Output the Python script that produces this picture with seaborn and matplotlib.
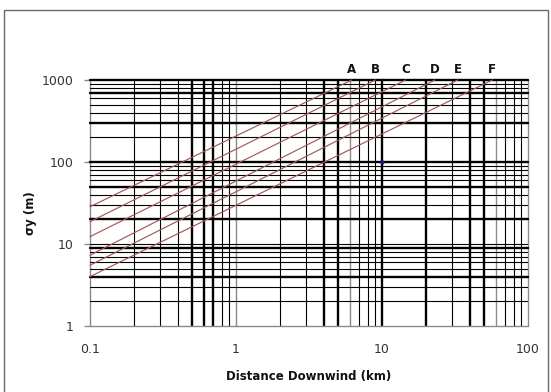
import matplotlib
matplotlib.use("Agg")
import matplotlib.pyplot as plt
import seaborn as sns
import pandas as pd
from matplotlib.patches import Rectangle

# ---- data ----
classes = ["A", "B", "C", "D", "E", "F"]
x_start = [0.1, 0.1, 0.1, 0.1, 0.1, 0.1]          # km
sigma_start = [28.5, 18.7, 12.3, 7.3, 5.5, 4.0]    # m at x_start
x_end = [6.2, 9.0, 14.5, 23.0, 33.0, 57.0]         # km where line reaches 1000 m
sigma_end = [1000, 1000, 1000, 1000, 1000, 1000]   # m

x_ticks = [0.1, 1, 10, 100]
x_ticklabels = ["0.1", "1", "10", "100"]
y_ticks = [1, 10, 100, 1000]
y_ticklabels = ["1", "10", "100", "1000"]

marker_x = [10]
marker_y = [100]

rows = []
for c, xs, ys, xe, ye in zip(classes, x_start, sigma_start, x_end, sigma_end):
    rows.append({"cls": c, "x": xs, "y": ys})
    rows.append({"cls": c, "x": xe, "y": ye})
df = pd.DataFrame(rows)

sns.set_style("white")
plt.rcParams["font.family"] = ["DejaVu Sans"]

W, H = 551, 392
fig = plt.figure(figsize=(W / 100, H / 100), dpi=100)
ax = fig.add_axes([90 / W, 1 - 326 / H, (528 - 90) / W, (326 - 80) / H])

ax.set_xscale("log")
ax.set_yscale("log")
ax.set_xlim(0.1, 100)
ax.set_ylim(1, 1000)

# grid lines (black, with the uneven weights of the reference)
thick_v = {0.5, 0.6, 0.7, 4, 5, 10, 20, 40, 50}
gray_v = {0.1, 1, 6, 60, 100}
thick_h = {1000, 700, 300, 100, 50, 20, 9, 4}
gray_h = {1}

def positions(lo_exp, hi_exp):
    out = []
    for e in range(lo_exp, hi_exp):
        for m in range(1, 10):
            out.append(round(m * 10 ** e, 6))
    out.append(round(10 ** hi_exp, 6))
    return out

for v in positions(-1, 2):
    if v in gray_v:
        ax.axvline(v, color="#8a8a8a", lw=1.0, zorder=1, clip_on=False)
    elif v in thick_v:
        ax.axvline(v, color="black", lw=1.7, zorder=1)
    else:
        ax.axvline(v, color="black", lw=0.8, zorder=1)

for v in positions(0, 3):
    if v in gray_h:
        ax.axhline(v, color="#8a8a8a", lw=1.0, zorder=1, clip_on=False)
    elif v in thick_h:
        ax.axhline(v, color="black", lw=1.7, zorder=1, clip_on=False)
    else:
        ax.axhline(v, color="black", lw=0.8, zorder=1)

sns.lineplot(data=df, x="x", y="y", hue="cls", units="cls",
             palette=["#9e5a58"] * len(classes), estimator=None,
             legend=False, lw=0.85, ax=ax, zorder=3)
for line in ax.lines[-len(classes):]:
    line.set_clip_on(False)

ax.scatter(marker_x, marker_y, s=4, color="#1a1a80", zorder=4)

for c, xe, ye in zip(classes, x_end, sigma_end):
    ax.annotate(c, (xe, ye), xytext=(0, 3), textcoords="offset points",
                ha="center", va="bottom", fontsize=8.5, fontweight="bold",
                color="#111111")

for s in ax.spines.values():
    s.set_visible(False)

ax.set_xticks(x_ticks)
ax.set_xticklabels(x_ticklabels)
ax.set_yticks(y_ticks)
ax.set_yticklabels(y_ticklabels)
ax.minorticks_off()
ax.tick_params(axis="x", length=0, pad=12, labelsize=9, labelcolor="#333333")
ax.tick_params(axis="y", left=True, length=4, width=1, color="#8a8a8a",
               direction="out", pad=8, labelsize=9, labelcolor="#333333")

ax.set_xlabel("Distance Downwind (km)", fontsize=8.5, fontweight="bold",
              color="#111111", labelpad=10)
ax.set_ylabel("σy (m)", fontsize=8.5, fontweight="bold", color="#111111")
ax.yaxis.set_label_coords(-0.121, 0.46)

fig.patches.append(Rectangle((4 / W, -0.05), (548 - 4) / W, 1.05 - 10 / H,
                             transform=fig.transFigure, fill=False,
                             edgecolor="#6a6a6a", lw=1.0))

fig.savefig("out.png", dpi=100, facecolor="white")
